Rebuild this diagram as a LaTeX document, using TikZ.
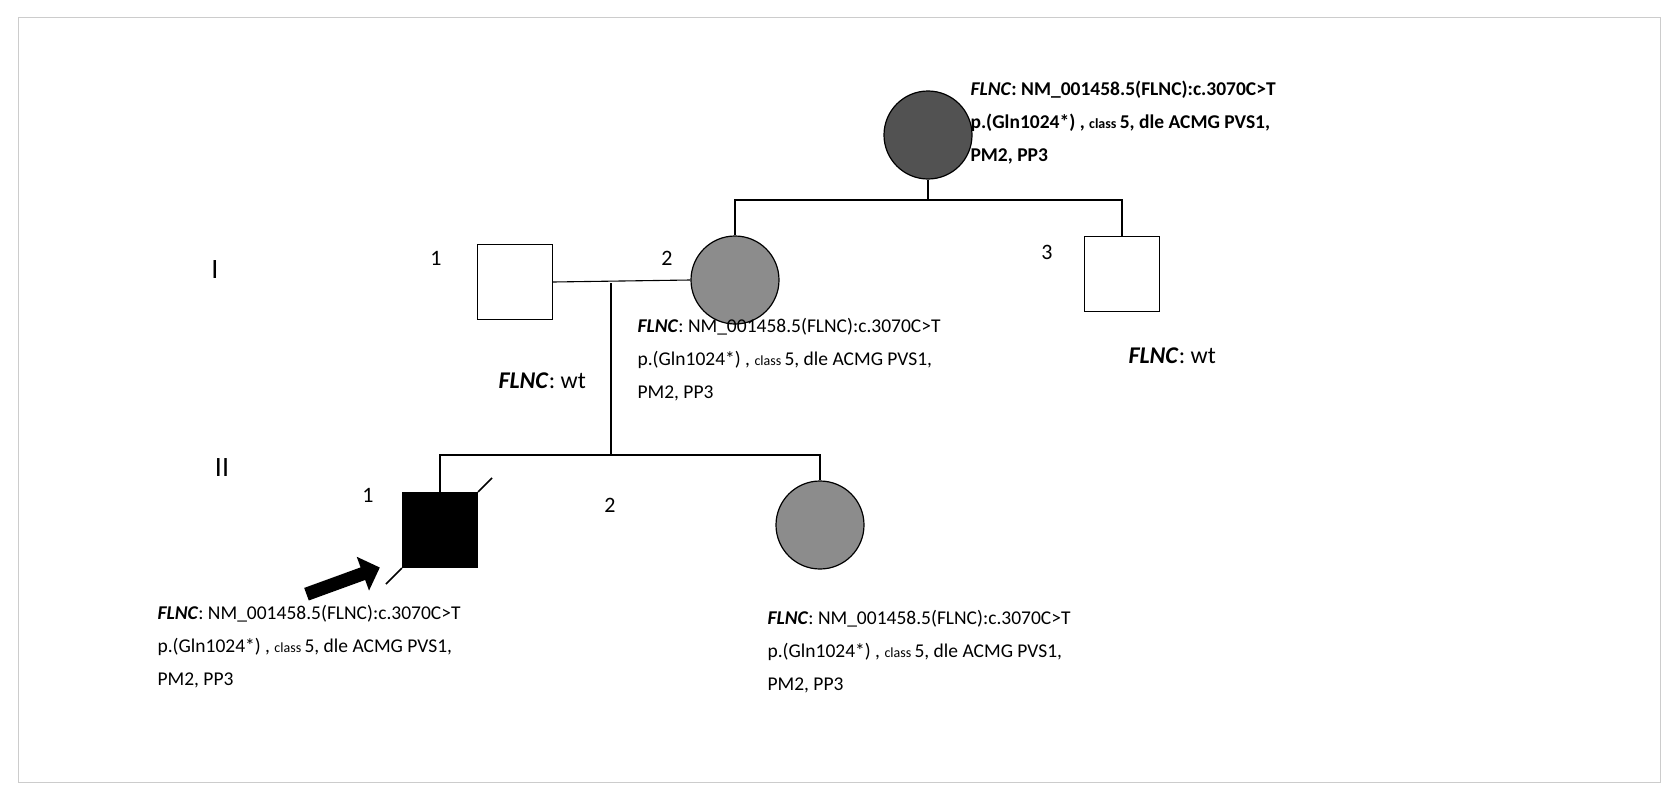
\documentclass[tikz,border=0pt]{standalone}
\usepackage{fontspec}
\setmainfont{Carlito}
\usetikzlibrary{shapes.arrows}
\newcommand{\flncvar}{\textbf{\textit{FLNC}}: NM\_001458.5(FLNC):c.3070C>T\\
p.(Gln1024*) , {\fontsize{14}{14}\selectfont class}\,5, dle ACMG PVS1,\\
PM2, PP3}
\begin{document}
\begin{tikzpicture}[x=1pt,y=-1pt,
  male/.style={draw,line width=1.2pt,minimum size=75pt,inner sep=0pt},
  female/.style={draw,circle,line width=1.2pt,minimum size=88pt,inner sep=0pt},
  info/.style={anchor=north west,align=left,inner sep=0pt,font=\fontsize{19.5}{33}\selectfont},
  num/.style={font=\fontsize{22}{22}\selectfont},
  every path/.style={line width=1.1pt}]
  % frame
  \useasboundingbox (0,0) rectangle (1678,800);
  \draw[black!20,line width=1pt] (18,18) rectangle (1660,782);

  % generation labels
  \node[num,font=\fontsize{28}{28}\selectfont] (genI) at (215,270) {I};
  \node[num,font=\fontsize{28}{28}\selectfont] (genII) at (222,468) {II};

  % individuals
  \node[female,fill=black!68] (gm) at (928,135) {};
  \node[male] (p1) at (515,282) {};
  \node[female,fill=black!45] (p2) at (735,280) {};
  \node[male] (p3) at (1122,274) {};
  \node[male,fill=black] (c1) at (440,530) {};
  \node[female,fill=black!45] (c2) at (820,525) {};

  % numbers
  \node[num] (n11) at (436,258) {1};
  \node[num] (n12) at (667,258) {2};
  \node[num] (n13) at (1047,252) {3};
  \node[num] (n21) at (368,495) {1};
  \node[num] (n22) at (610,505) {2};

  % lines of descent
  \coordinate (gmdrop) at (928,200);
  \coordinate (mate) at (611,283);
  \coordinate (sib) at (611,455);
  \draw (gm.south) -- (gmdrop);
  \draw (p2.north) |- (gmdrop) -| (p3.north);
  \draw (p1.east) -- (p2.west);
  \draw (mate) -- (sib);
  \draw (c1.north) |- (sib) -| (c2.north);

  % deceased slash and proband arrow
  \draw[line width=1.6pt] (c1.south west) -- ++(-16,16);
  \draw[line width=1.6pt] (c1.north east) -- ++(14,-14);
  \node[single arrow,fill=black,minimum height=78pt,minimum width=36pt,
    single arrow head extend=6pt,inner sep=3pt,rotate=20] (prob) at (340,582) {};

  % genotype notes
  \node[info,font=\bfseries\fontsize{19.5}{33}\selectfont] (tgm) at (970,80) {\flncvar};
  \node[info] (tp2) at (637,318) {\flncvar};
  \node[info,font=\fontsize{24}{30}\selectfont] (tp1) at (498,372) {\textbf{\textit{FLNC}}: wt};
  \node[info,font=\fontsize{24}{30}\selectfont] (tp3) at (1128,347) {\textbf{\textit{FLNC}}: wt};
  \node[info] (tc1) at (157,605) {\flncvar};
  \node[info] (tc2) at (767,610) {\flncvar};
\end{tikzpicture}
\end{document}
